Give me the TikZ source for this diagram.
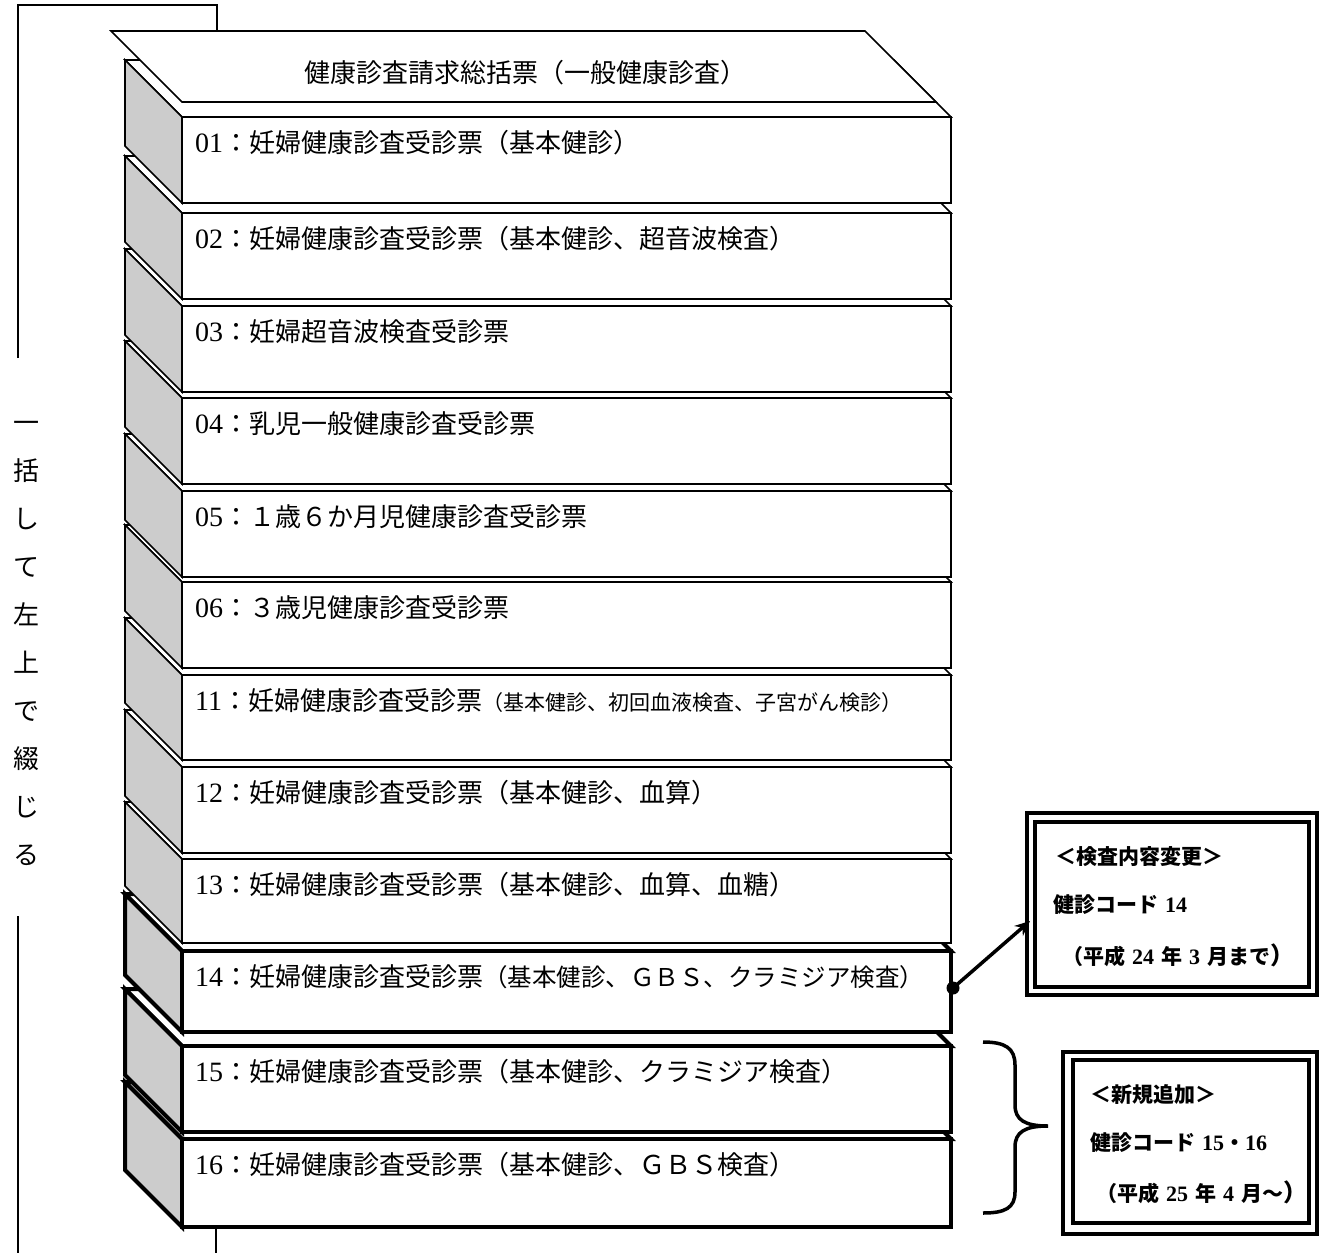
\documentclass[tikz,border=0pt]{standalone}
\usepackage{fontspec}
\newfontfamily\jp{Noto Sans CJK JP}
\newfontfamily\dgfont{Liberation Serif}
\usetikzlibrary{arrows.meta}
\definecolor{sidegray}{RGB}{204,204,204}
\newcommand{\J}[1]{{\jp #1}}
\newcommand{\N}[1]{{\dgfont\fontsize{28}{30}\selectfont #1}}
\newcommand{\B}[1]{{\dgfont\bfseries\fontsize{22}{24}\selectfont #1}}
\tikzset{
  cardlbl/.style={anchor=west, inner sep=0pt, font=\fontsize{26}{30}\selectfont},
  callt/.style={anchor=west, inner sep=0pt, font=\bfseries\fontsize{21}{24}\selectfont},
  thinln/.style={line width=1.6pt},
  dbox/.style={draw, line width=3.5pt, inner sep=0pt, anchor=north west},
}
% name, top, bottom, line width, label
\newcommand{\cardbox}[5]{%
  \filldraw[line width=#4, fill=white] (125,{#2-57}) -- (894,{#2-57}) -- (951,#2) -- (182,#2) -- cycle;
  \filldraw[line width=#4, fill=sidegray] (125,{#2-57}) -- (182,#2) -- (182,#3) -- (125,{#3-57}) -- cycle;
  \node[draw, fill=white, line width=#4, inner sep=0pt, outer sep=0pt, minimum width=769pt, minimum height={(#3-#2)*1pt}, anchor=north west] (#1) at (182,#2) {};
  \node[cardlbl] (#1t) at (195,{#2+26}) {#5};
}
\begin{document}
\begin{tikzpicture}[x=1pt,y=-1pt]
\useasboundingbox (0,0) rectangle (1323,1253);
\fill[white] (0,0) rectangle (1323,1253);

% binding bracket
\draw[thinln] (18,358) -- (18,5) -- (217,5) -- (217,31);
\draw[thinln] (18,916) -- (18,1253);
\draw[thinln] (216,1227) -- (216,1253);
\node[align=center, inner sep=0pt, font=\jp\fontsize{26}{48}\selectfont] (vtext) at (26,643) {一\\括\\し\\て\\左\\上\\で\\綴\\じ\\る};

% cards, bottom to top
\cardbox{c16}{1139}{1227}{4pt}{\N{16}\J{：妊婦健康診査受診票（基本健診、ＧＢＳ検査）}}
\cardbox{c15}{1046}{1132}{4pt}{\N{15}\J{：妊婦健康診査受診票（基本健診、クラミジア検査）}}
\cardbox{c14}{951}{1032}{4pt}{\N{14}\J{：妊婦健康診査受診票}{\jp\fontsize{24.5}{28}\selectfont （基本健診、ＧＢＳ、クラミジア検査）}}
\cardbox{c13}{859}{943}{1.6pt}{\N{13}\J{：妊婦健康診査受診票（基本健診、血算、血糖）}}
\cardbox{c12}{767}{853}{1.6pt}{\N{12}\J{：妊婦健康診査受診票（基本健診、血算）}}
\cardbox{c11}{675}{760}{1.6pt}{\N{11}\J{：妊婦健康診査受診票}{\jp\fontsize{21}{24}\selectfont （基本健診、初回血液検査、子宮がん検診）}}
\cardbox{c06}{582}{668}{1.6pt}{\N{06}\J{：３歳児健康診査受診票}}
\cardbox{c05}{491}{577}{1.6pt}{\N{05}\J{：１歳６か月児健康診査受診票}}
\cardbox{c04}{398}{484}{1.6pt}{\N{04}\J{：乳児一般健康診査受診票}}
\cardbox{c03}{306}{392}{1.6pt}{\N{03}\J{：妊婦超音波検査受診票}}
\cardbox{c02}{213}{299}{1.6pt}{\N{02}\J{：妊婦健康診査受診票（基本健診、超音波検査）}}
\cardbox{c01}{117}{203}{1.6pt}{\N{01}\J{：妊婦健康診査受診票（基本健診）}}

% header
\filldraw[thinln, fill=white] (111,31) -- (865,31) -- (936,102) -- (182,102) -- cycle;
\node[inner sep=0pt, font=\jp\fontsize{26}{30}\selectfont] (header) at (525,73) {健康診査請求総括票（一般健康診査）};

% callout 1
\node[dbox, minimum width=290pt, minimum height=182pt] (box1o) at (1025,811) {};
\node[dbox, minimum width=274pt, minimum height=165pt] (box1i) at (1033,820) {};
\node[callt] (b1a) at (1055,857) {\J{＜検査内容変更＞}};
\node[callt] (b1b) at (1053,905) {\J{健診コード}\hspace{7pt}\B{14}};
\node[callt] (b1c) at (1062,955) {\J{（平成}\hspace{7pt}\B{24}\hspace{7pt}\J{年}\hspace{7pt}\B{3}\hspace{7pt}\J{月まで}{\jp\fontsize{24}{24}\selectfont ）}};

% callout 2
\node[dbox, minimum width=254pt, minimum height=182pt] (box2o) at (1061,1050) {};
\node[dbox, minimum width=236pt, minimum height=163pt] (box2i) at (1071,1058) {};
\node[callt] (b2a) at (1090,1095) {\J{＜新規追加＞}};
\node[callt] (b2b) at (1090,1143) {\J{健診コード}\hspace{7pt}\B{15}\J{・}\B{16}};
\node[callt] (b2c) at (1096,1192) {\J{（平成}\hspace{7pt}\B{25}\hspace{7pt}\J{年}\hspace{7pt}\B{4}\hspace{7pt}\J{月～}{\jp\fontsize{24}{24}\selectfont ）}};

% arrow from card 14
\node[circle, fill=black, inner sep=0pt, minimum size=13pt] (dot14) at (953,988) {};
\coordinate (arrtip) at (1030,921);
\draw[line width=3.5pt, -{Stealth[length=15pt,width=13pt]}] (dot14.center) -- (arrtip);

% brace for 15 and 16
\draw[line width=3.5pt] (983,1042) .. controls (1005,1042) and (1015,1048) .. (1015,1065) -- (1015,1105)
  .. controls (1015,1120) and (1025,1126) .. (1048,1126)
  .. controls (1025,1126) and (1015,1132) .. (1015,1147) -- (1015,1192)
  .. controls (1015,1208) and (1005,1213) .. (983,1213);
\end{tikzpicture}
\end{document}
